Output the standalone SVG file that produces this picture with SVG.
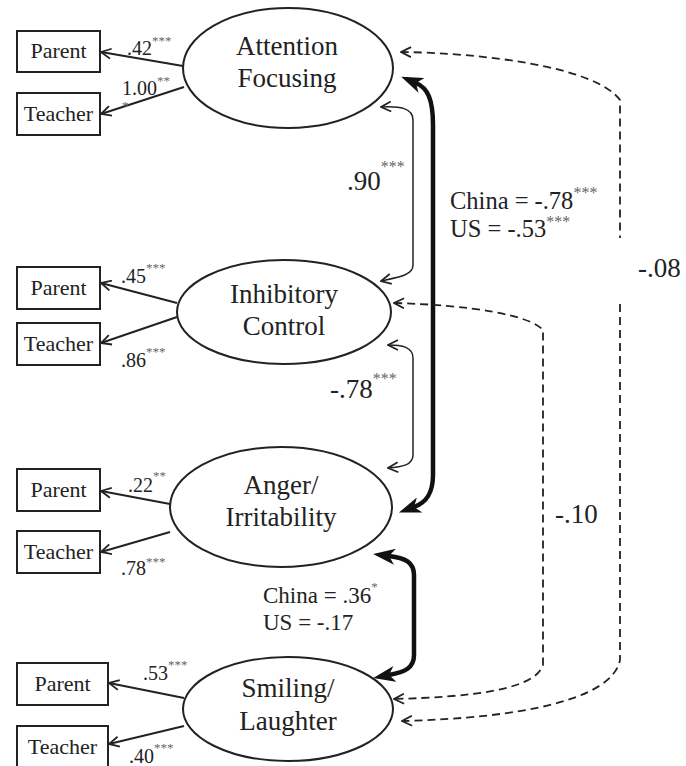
<svg xmlns="http://www.w3.org/2000/svg" width="686" height="766" viewBox="0 0 686 766">
<defs>
<style>
text{font-family:"Liberation Serif","Times New Roman",serif;fill:#222}
.node{font-size:27px;text-anchor:middle}
.box{font-size:22px;text-anchor:middle}
.ld{font-size:20px}
.big{font-size:27px}
.grp{font-size:24.5px}
.grp2{font-size:23px}
.st{font-size:13px;fill:#666}
.stb{font-size:16px;fill:#666}
rect,ellipse{fill:#fff;stroke:#222;stroke-width:2}
.thin{fill:none;stroke:#222;stroke-width:2}
.thin1{fill:none;stroke:#222;stroke-width:1.5}
.thick{fill:none;stroke:#111;stroke-width:4.5}
.dash{fill:none;stroke:#222;stroke-width:1.8;stroke-dasharray:8 5}
</style>
<marker id="open" viewBox="0 0 12 12" refX="11" refY="6" markerWidth="12" markerHeight="12" markerUnits="userSpaceOnUse" orient="auto-start-reverse">
<path d="M1,1 L11,6 L1,11" fill="none" stroke="#222" stroke-width="1.8"/>
</marker>
<marker id="barb" viewBox="0 0 22 16" refX="6" refY="8" markerWidth="22" markerHeight="16" markerUnits="userSpaceOnUse" orient="auto-start-reverse">
<path d="M0,0 L22,8 L0,16 L6,8 z" fill="#111"/>
</marker>
</defs>

<g id="connectors">
<line class="thin" x1="183" y1="66" x2="101" y2="52" marker-end="url(#open)"/>
<line class="thin" x1="184" y1="87" x2="101" y2="114" marker-end="url(#open)"/>
<line class="thin" x1="177" y1="303" x2="101" y2="283" marker-end="url(#open)"/>
<line class="thin" x1="177" y1="317" x2="101" y2="343" marker-end="url(#open)"/>
<line class="thin" x1="170" y1="504" x2="101" y2="491" marker-end="url(#open)"/>
<line class="thin" x1="170" y1="532" x2="101" y2="552" marker-end="url(#open)"/>
<line class="thin" x1="184" y1="698" x2="109" y2="683" marker-end="url(#open)"/>
<line class="thin" x1="184" y1="726" x2="109" y2="744" marker-end="url(#open)"/>
<path class="thin1" d="M381,107 C400,106 413,108 413,120 L413,265 C413,275 400,277 381,281" marker-start="url(#open)" marker-end="url(#open)"/>
<path class="thin1" d="M388,345 C402,345 413,347 413,358 L413,455 C413,465 402,467 388,468" marker-start="url(#open)" marker-end="url(#open)"/>
<path class="thick" d="M416,83 C428,88 433,100 433,125 L433,475 C433,495 425,503 414,507" marker-start="url(#barb)" marker-end="url(#barb)"/>
<path class="thick" d="M389,556 C405,558 414,562 414,575 L414,655 C414,668 405,672 389,675" marker-start="url(#barb)" marker-end="url(#barb)"/>
<path class="dash" d="M401,52 C480,53 595,66 620,100 L620,238" marker-start="url(#open)"/>
<path class="dash" d="M620,304 L620,660 C612,700 520,718 402,721" marker-end="url(#open)"/>
<path class="dash" d="M394,303 C470,305 530,315 543,330 L543,665 C535,690 470,697 394,699" marker-start="url(#open)" marker-end="url(#open)"/>
</g>

<g id="attention">
<ellipse cx="288" cy="68" rx="105" ry="60"/>
<text class="node" x="287" y="55">Attention</text>
<text class="node" x="287" y="87">Focusing</text>
</g>
<g id="inhibitory">
<ellipse cx="284" cy="312" rx="107" ry="52"/>
<text class="node" x="284" y="303">Inhibitory</text>
<text class="node" x="284" y="335">Control</text>
</g>
<g id="anger">
<ellipse cx="281" cy="507" rx="111" ry="60"/>
<text class="node" x="281" y="494">Anger/</text>
<text class="node" x="281" y="526">Irritability</text>
</g>
<g id="smiling">
<ellipse cx="288" cy="709" rx="105" ry="52"/>
<text class="node" x="288" y="697">Smiling/</text>
<text class="node" x="288" y="730">Laughter</text>
</g>

<g id="af-parent"><rect x="17" y="31" width="83" height="41"/><text class="box" x="58.5" y="58">Parent</text></g>
<g id="af-teacher"><rect x="17" y="93" width="83" height="42"/><text class="box" x="58.5" y="121">Teacher</text></g>
<g id="ic-parent"><rect x="17" y="267" width="83" height="42"/><text class="box" x="58.5" y="295">Parent</text></g>
<g id="ic-teacher"><rect x="17" y="323" width="83" height="42"/><text class="box" x="58.5" y="351">Teacher</text></g>
<g id="ai-parent"><rect x="17" y="469" width="83" height="42"/><text class="box" x="58.5" y="497">Parent</text></g>
<g id="ai-teacher"><rect x="17" y="531" width="83" height="42"/><text class="box" x="58.5" y="559">Teacher</text></g>
<g id="sl-parent"><rect x="17" y="663" width="91" height="42"/><text class="box" x="62.5" y="691">Parent</text></g>
<g id="sl-teacher"><rect x="17" y="726" width="91" height="44"/><text class="box" x="62.5" y="754">Teacher</text></g>

<g id="labels">
<text class="ld" x="127" y="55">.42<tspan class="st" dy="-10">***</tspan></text>
<text class="ld" x="122" y="95">1.00<tspan class="st" dy="-10">**</tspan></text>
<text class="st" x="122" y="110">*</text>
<text class="ld" x="121" y="283">.45<tspan class="st" dy="-11">***</tspan></text>
<text class="ld" x="121" y="367">.86<tspan class="st" dy="-11">***</tspan></text>
<text class="ld" x="128" y="492">.22<tspan class="st" dy="-12">**</tspan></text>
<text class="ld" x="121" y="575">.78<tspan class="st" dy="-9">***</tspan></text>
<text class="ld" x="143" y="680">.53<tspan class="st" dy="-11">***</tspan></text>
<text class="ld" x="129" y="763">.40<tspan class="st" dy="-11">***</tspan></text>

<text class="big" x="347" y="190">.90<tspan class="stb" dy="-18">***</tspan></text>
<text class="big" x="330" y="398">-.78<tspan class="stb" dy="-14">***</tspan></text>
<text class="big" x="638" y="277">-.08</text>
<text class="big" x="555" y="523">-.10</text>

<text class="grp" x="450" y="209">China = -.78<tspan class="stb" dy="-11">***</tspan></text>
<text class="grp" x="450" y="237">US = -.53<tspan class="stb" dy="-10">***</tspan></text>
<text class="grp2" x="263" y="603">China = .36<tspan class="st" dy="-12">*</tspan></text>
<text class="grp2" x="263" y="630">US = -.17</text>
</g>
</svg>
